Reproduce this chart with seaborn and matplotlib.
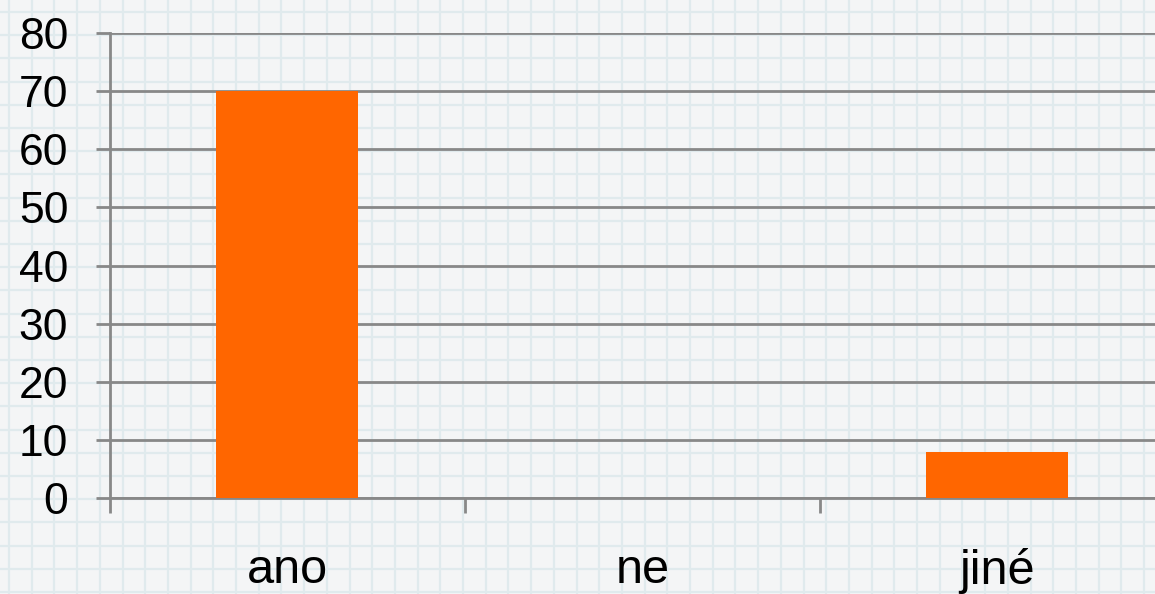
import matplotlib
matplotlib.use("Agg")
import matplotlib.pyplot as plt
from matplotlib.ticker import MultipleLocator, FixedLocator, NullFormatter
import numpy as np
import pandas as pd
import seaborn as sns

categories = ["ano", "ne", "jiné"]
values = [70, 0, 8]

sns.set_theme(style="white")
plt.rcParams["font.family"] = ["Liberation Sans", "DejaVu Sans"]

W, H = 1155, 594
fig = plt.figure(figsize=(W / 100, H / 100), dpi=100)
fig.patch.set_facecolor("#f4f5f6")

# graph-paper background (decoration)
bg = fig.add_axes([0, 0, 1, 1], zorder=0)
bg.set_xlim(0, W)
bg.set_ylim(0, H)
bg.set_facecolor("#f4f5f6")
bg.xaxis.set_major_locator(FixedLocator(np.arange(9, W, 22.7)))
bg.yaxis.set_major_locator(FixedLocator(np.arange(2, H, 23.2)))
bg.grid(True, color="#e0eaed", linewidth=1.6)
bg.tick_params(length=0, labelbottom=False, labelleft=False)
for s in bg.spines.values():
    s.set_visible(False)

df = pd.DataFrame({"cat": categories, "val": values})
ax = fig.add_axes([110 / W, 1 - 498 / H, 1065 / W, 465 / H], zorder=1)
ax.patch.set_alpha(0)
sns.barplot(data=df, x="cat", y="val", color="#ff6600", saturation=1,
            width=0.4, ax=ax, zorder=3, linewidth=0)
ax.set_xlim(-0.5, 2.5)
ax.set_ylim(0, 80)
ax.yaxis.set_major_locator(MultipleLocator(10))
ax.grid(True, axis="y", color="#888888", linewidth=2, zorder=0)
ax.set_axisbelow(True)

ax.set_xlabel("")
ax.set_ylabel("")
for side in ["top", "right"]:
    ax.spines[side].set_visible(False)
ax.spines["left"].set_color("#888888")
ax.spines["left"].set_linewidth(2)
ax.spines["bottom"].set_color("#888888")
ax.spines["bottom"].set_linewidth(2)

# x: boundary ticks as major (no labels), category labels on minor
ax.xaxis.set_major_locator(FixedLocator([-0.5, 0.5, 1.5, 2.5]))
ax.xaxis.set_major_formatter(NullFormatter())
ax.xaxis.set_minor_locator(FixedLocator(range(len(categories))))
ax.set_xticklabels(categories, minor=True)
ax.tick_params(axis="x", which="major", direction="out", length=11,
               width=2, color="#888888", bottom=True)
ax.tick_params(axis="x", which="minor", length=0, pad=36, labelsize=35,
               labelcolor="black", bottom=True)
ax.tick_params(axis="y", direction="out", length=10, width=2,
               color="#888888", left=True, pad=20, labelsize=32,
               labelcolor="black")

fig.savefig("out.png", dpi=100, facecolor=fig.get_facecolor())
